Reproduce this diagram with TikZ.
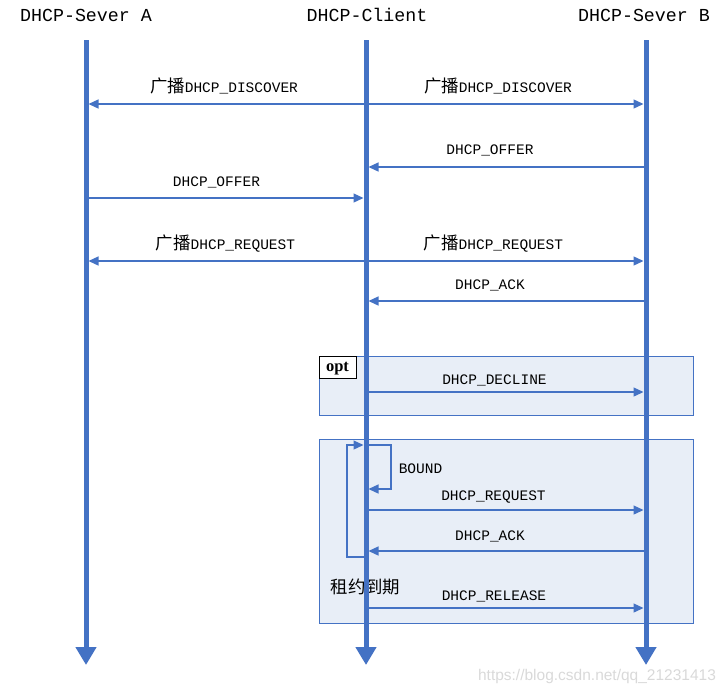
\documentclass[tikz,border=0pt]{standalone}
\usepackage{fontspec}
\setmainfont{Liberation Mono}
\newfontfamily\cjk{Noto Sans CJK SC}[Scale=1.2]
\newfontfamily\optfont{Liberation Serif}
\newfontfamily\wmfont{Liberation Sans}
\usetikzlibrary{arrows.meta, positioning, calc}
\definecolor{seqblue}{RGB}{68,114,196}
\definecolor{seqfill}{RGB}{232,238,247}
\tikzset{
    lifeline/.style={draw=seqblue, line width=5pt, -{Triangle[length=18pt, width=20pt]}},
    msg/.style={draw=seqblue, line width=1.3pt, -{Triangle[length=10pt, width=9pt]}, shorten >=2.5pt},
    msglabel/.style={inner sep=0pt, font=\fontsize{14.5}{16}\selectfont},
    header/.style={inner sep=0pt, font=\fontsize{18.3}{20}\selectfont},
    fragbox/.style={draw=seqblue, fill=seqfill, line width=1pt},
}

\begin{document}
\begin{tikzpicture}[
        x=1pt, y=-1pt,
        optbox/.style={draw=black, fill=white, line width=1pt},
        optlabel/.style={inner sep=0pt, font=\optfont\fontsize{16.5}{18}\selectfont\bfseries},
        watermark/.style={inner sep=0pt, text=gray!30, font=\wmfont\fontsize{15.5}{17}\selectfont}
    ]
        \useasboundingbox (0,0) rectangle (728,694);

        % Fragments
        \draw[fragbox] (319,356) rectangle (693,415);
        \draw[optbox] (319,356) rectangle (356,378);
        \node[optlabel] (opt_tag) at (337.5,368.5) {opt};
        \draw[fragbox] (319,439) rectangle (693,623);

        % Nodes
        \node[header] (hd_a) at (86,15) {DHCP-Sever A};
        \node[header] (hd_c) at (367,15) {DHCP-Client};
        \node[header] (hd_b) at (644,15) {DHCP-Sever B};

        \coordinate (a_top) at (86,40);   \coordinate (a_end) at (86,665);
        \coordinate (c_top) at (366,40);  \coordinate (c_end) at (366,665);
        \coordinate (b_top) at (646,40);  \coordinate (b_end) at (646,665);

        \coordinate (a_disc) at (86,104);  \coordinate (c_disc) at (366,104);  \coordinate (b_disc) at (646,104);
        \coordinate (c_offer_b) at (366,167);  \coordinate (b_offer) at (646,167);
        \coordinate (a_offer) at (86,198);  \coordinate (c_offer_a) at (366,198);
        \coordinate (a_req) at (86,261);  \coordinate (c_req) at (366,261);  \coordinate (b_req) at (646,261);
        \coordinate (c_ack) at (366,301);  \coordinate (b_ack) at (646,301);
        \coordinate (c_decl) at (366,392);  \coordinate (b_decl) at (646,392);
        \coordinate (c_loop_top) at (366,445);  \coordinate (c_bound) at (366,489);  \coordinate (c_loop_bot) at (366,557);
        \coordinate (c_req2) at (366,510);  \coordinate (b_req2) at (646,510);
        \coordinate (c_ack2) at (366,551);  \coordinate (b_ack2) at (646,551);
        \coordinate (c_rel) at (366,608);  \coordinate (b_rel) at (646,608);

        \node[msglabel] (lb_disc_a) at (224,86) {{\cjk 广播}DHCP\_DISCOVER};
        \node[msglabel] (lb_disc_b) at (498,86) {{\cjk 广播}DHCP\_DISCOVER};
        \node[msglabel] (lb_offer_b) at (490,150) {DHCP\_OFFER};
        \node[msglabel] (lb_offer_a) at (216.5,182) {DHCP\_OFFER};
        \node[msglabel] (lb_req_a) at (225.5,244) {{\cjk 广播}DHCP\_REQUEST};
        \node[msglabel] (lb_req_b) at (493.5,244) {{\cjk 广播}DHCP\_REQUEST};
        \node[msglabel] (lb_ack) at (490,285) {DHCP\_ACK};
        \node[msglabel] (lb_decl) at (494.5,380) {DHCP\_DECLINE};
        \node[msglabel] (lb_bound) at (420.5,469) {BOUND};
        \node[msglabel] (lb_req2) at (493.5,497) {DHCP\_REQUEST};
        \node[msglabel] (lb_ack2) at (490,536) {DHCP\_ACK};
        \node[msglabel] (lb_expire) at (365.5,587) {\cjk 租约到期};
        \node[msglabel] (lb_rel) at (494,596) {DHCP\_RELEASE};

        % Connections
        \draw[msg] (c_disc) -- (a_disc);
        \draw[msg] (c_disc) -- (b_disc);
        \draw[msg] (b_offer) -- (c_offer_b);
        \draw[msg] (a_offer) -- (c_offer_a);
        \draw[msg] (c_req) -- (a_req);
        \draw[msg] (c_req) -- (b_req);
        \draw[msg] (b_ack) -- (c_ack);
        \draw[msg] (c_decl) -- (b_decl);
        \draw[msg] (c_loop_top) -- ++(25,0) |- (c_bound);
        \draw[msg] (c_loop_bot) -- ++(-19,0) |- (c_loop_top);
        \draw[msg] (c_req2) -- (b_req2);
        \draw[msg] (b_ack2) -- (c_ack2);
        \draw[msg] (c_rel) -- (b_rel);

        % Lifelines
        \draw[lifeline] (a_top) -- (a_end);
        \draw[lifeline] (c_top) -- (c_end);
        \draw[lifeline] (b_top) -- (b_end);

        \node[watermark] (wm) at (597,676) {https://blog.csdn.net/qq\_21231413};
    \end{tikzpicture}
\end{document}
